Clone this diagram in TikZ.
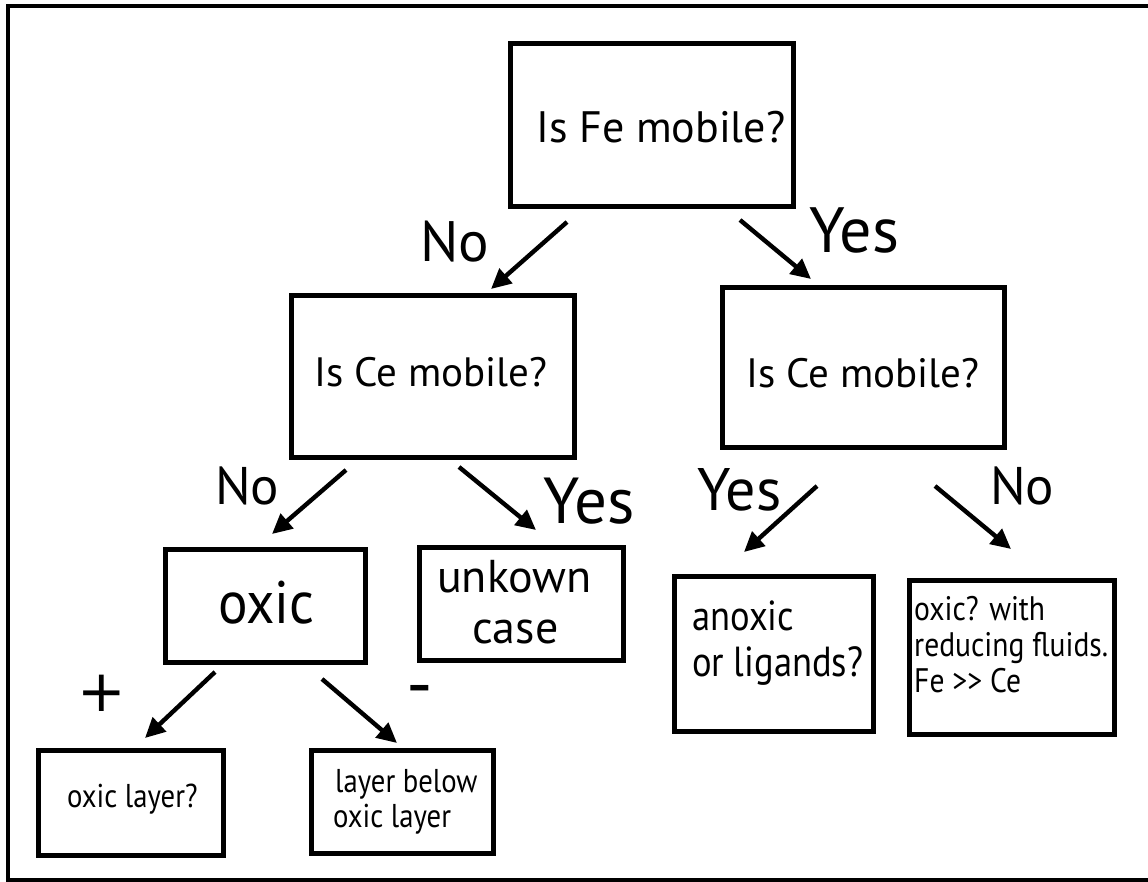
\documentclass[tikz,border=0pt]{standalone}
\usepackage{fontspec}
\usepackage{graphicx}
\setmainfont{PT Sans}
\newfontfamily\symfont{DejaVu Sans}
\usetikzlibrary{arrows.meta}

\newcommand{\fsz}[1]{\fontsize{#1}{#1}\selectfont}
% horizontally condensed text for the small boxes
\newcommand{\narrow}[1]{\scalebox{0.87}[1]{#1}}

\begin{document}
\begin{tikzpicture}[x=1pt,y=-1pt,
  box/.style={draw, line width=5.5pt, rectangle, inner sep=0pt},
  arr/.style={line width=4.4pt, -{Triangle[length=20pt,width=19pt]}},
  txt/.style={inner sep=0pt, anchor=base west},
  sym/.style={inner sep=0pt, anchor=center}]

\useasboundingbox (0,0) rectangle (1148,882);

% outer frame (open on the right edge)
\draw[line width=4.5pt] (1148,6) -- (8,6) -- (8,880) -- (1148,880);

% decision boxes
\node[box, minimum width=283pt, minimum height=163pt] (fe)    at (652,125) {};
\node[box, minimum width=283pt, minimum height=162pt] (ceL)   at (433,376.5) {};
\node[box, minimum width=282pt, minimum height=160pt] (ceR)   at (863.5,367.5) {};
\node[box, minimum width=200pt, minimum height=113pt] (oxic)  at (265.5,606) {};
\node[box, minimum width=204pt, minimum height=113pt] (unk)   at (521.5,604) {};
\node[box, minimum width=199pt, minimum height=155pt] (anox)  at (774,654) {};
\node[box, minimum width=205pt, minimum height=154pt] (red)   at (1012,657.5) {};
\node[box, minimum width=185pt, minimum height=105pt] (oxl)   at (131,803) {};
\node[box, minimum width=182pt, minimum height=103pt] (below) at (402.5,802) {};

% box texts
\node[txt] (tfe)  at (536,143) {\fsz{44}Is Fe mobile?};
\node[txt] (tceL) at (314,386) {\fsz{41}Is Ce mobile?};
\node[txt] (tceR) at (746,388) {\fsz{41}Is Ce mobile?};
\node[txt] (toxic) at (218,623) {\fsz{60}\scalebox{0.92}[1]{oxic}};
\node[txt] (tunk1) at (437,592) {\fsz{46}unkown};
\node[txt] (tunk2) at (472,643) {\fsz{46}case};
\node[txt] (tan1) at (692,630) {\fsz{42}\narrow{anoxic}};
\node[txt] (tan2) at (692,676) {\fsz{42}\narrow{or ligands?}};
\node[txt] (tre1) at (914,620) {\fsz{34}\narrow{oxic? with}};
\node[txt] (tre2) at (914,656) {\fsz{34}\narrow{reducing fluids.}};
\node[txt] (tre3) at (914,692) {\fsz{34}\narrow{Fe >{}> Ce}};
\node[txt] (tox)  at (67,807)  {\fsz{33}\narrow{oxic layer?}};
\node[txt] (tbe1) at (335,792) {\fsz{33}\narrow{layer below}};
\node[txt] (tbe2) at (333,827) {\fsz{33}\narrow{oxic layer}};

% arrow end points
\coordinate (a1s) at (567,222); \coordinate (a1e) at (491,289);
\coordinate (a2s) at (740,220); \coordinate (a2e) at (811,279);
\coordinate (a3s) at (346,470); \coordinate (a3e) at (272,534);
\coordinate (a4s) at (459,467); \coordinate (a4e) at (536,530);
\coordinate (a5s) at (817,486); \coordinate (a5e) at (744,552);
\coordinate (a6s) at (935,486); \coordinate (a6e) at (1011,549);
\coordinate (a7s) at (215,672); \coordinate (a7e) at (145,738);
\coordinate (a8s) at (322,679); \coordinate (a8e) at (397,743);

\draw[arr] (a1s) -- (a1e);
\draw[arr] (a2s) -- (a2e);
\draw[arr] (a3s) -- (a3e);
\draw[arr] (a4s) -- (a4e);
\draw[arr] (a5s) -- (a5e);
\draw[arr] (a6s) -- (a6e);
\draw[arr] (a7s) -- (a7e);
\draw[arr] (a8s) -- (a8e);

% branch labels
\node[txt] (lno1)  at (420,262) {\fsz{57}No};
\node[txt] (lyes1) at (809,253) {\fsz{64}Yes};
\node[txt] (lno2)  at (215,504) {\fsz{53}No};
\node[txt] (lyes2) at (543,523) {\fsz{65}Yes};
\node[txt] (lyes3) at (697,510) {\fsz{60}Yes};
\node[txt] (lno3)  at (990,504) {\fsz{53}No};
\node[sym] (lplus) at (102,693) {\fsz{58}\symfont +};
\node[sym] (lminus) at (420,697) {\fsz{74}-};

\end{tikzpicture}
\end{document}
